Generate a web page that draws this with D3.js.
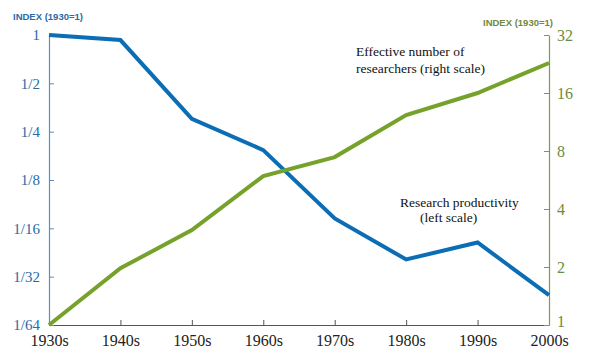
<!DOCTYPE html>
<html lang="en">
<head>
    <meta charset="UTF-8">
    <title>productivity</title>
    <script src="https://cdn.jsdelivr.net/npm/d3@7"></script>
    <style>
        body{ margin:0; background:#fff; }
        svg{ display:block; }
        .serif{ font-family: "Liberation Serif", "DejaVu Serif", "Times New Roman", serif; }
        .sans{ font-family: "Liberation Sans", Arial, sans-serif; }
    </style>
</head>
<body>
</body>
<script type="text/javascript">

    let decades = ["1930s","1940s","1950s","1960s","1970s","1980s","1990s","2000s"];
    let productivity = [1, 0.93, 0.30, 0.192, 0.072, 0.040, 0.051, 0.024];
    let researchers = [1, 1.97, 3.11, 5.93, 7.44, 12.3, 16, 22.9];
    let leftTicks = [1, 1/2, 1/4, 1/8, 1/16, 1/32, 1/64];
    let leftTickLabels = ["1","1/2","1/4","1/8","1/16","1/32","1/64"];
    let rightTicks = [32, 16, 8, 4, 2, 1];

    let width = 594, height = 362;
    let blue = "#0b6db5", green = "#76a22c";

    let svg = d3.select("body")
        .append("svg")
        .attr("width", width)
        .attr("height", height);

    let x = d3.scalePoint()
        .domain(decades)
        .range([49, 549]);

    let yLeft = d3.scaleLog().base(2)
        .domain([1/64, 1])
        .range([325, 35]);

    let yRight = d3.scaleLog().base(2)
        .domain([1, 32])
        .range([325, 35]);

    // bottom axis
    let xAxis = d3.axisBottom(x).tickSizeInner(-5).tickSizeOuter(0).tickPadding(10);
    let xg = svg.append("g").attr("transform", "translate(0,325)").call(xAxis);
    xg.attr("font-family", null).attr("font-size", null);
    xg.select(".domain").attr("stroke", "#555").attr("stroke-width", 1.2);
    xg.selectAll(".tick line").attr("stroke", "#555");
    xg.selectAll(".tick text").attr("class", "serif")
        .style("font-size", "16px").attr("fill", "#222");

    // left axis
    let yAxisL = d3.axisLeft(yLeft)
        .tickValues(leftTicks)
        .tickFormat((d, i) => leftTickLabels[i])
        .tickSizeInner(-5).tickSizeOuter(0).tickPadding(9);
    let lg = svg.append("g").attr("transform", "translate(49,0)").call(yAxisL);
    lg.attr("font-family", null).attr("font-size", null);
    lg.select(".domain").attr("stroke", "#5a8fbd").attr("stroke-width", 1.2);
    lg.selectAll(".tick line").attr("stroke", "#5a8fbd");
    lg.selectAll(".tick text").attr("class", "serif")
        .style("font-size", "15px").attr("fill", "#2a6aa6");

    // right axis
    let yAxisR = d3.axisRight(yRight)
        .tickValues(rightTicks)
        .tickFormat(d3.format("d"))
        .tickSizeInner(-5).tickSizeOuter(0).tickPadding(8);
    let rg = svg.append("g").attr("transform", "translate(549,0)").call(yAxisR);
    rg.attr("font-family", null).attr("font-size", null);
    rg.select(".domain").attr("stroke", "#7e9a45").attr("stroke-width", 1.2);
    rg.selectAll(".tick line").attr("stroke", "#7e9a45");
    rg.selectAll(".tick text").attr("class", "serif")
        .style("font-size", "16px").attr("fill", "#6f8a3c")
        .attr("dy", (d) => d === 1 ? "0.1em" : "0.32em");

    // axis titles
    svg.append("text").attr("class", "sans").attr("x", 13).attr("y", 20)
        .style("font-size", "9.5px").attr("font-weight", "bold")
        .attr("fill", "#2a6aa6").text("INDEX (1930=1)");
    svg.append("text").attr("class", "sans").attr("x", 483).attr("y", 26)
        .style("font-size", "9.5px").attr("font-weight", "bold")
        .attr("fill", "#6f8a3c").text("INDEX (1930=1)");

    // lines
    let lineL = d3.line().x((d, i) => x(decades[i])).y(d => yLeft(d));
    let lineR = d3.line().x((d, i) => x(decades[i])).y(d => yRight(d));

    svg.append("path").datum(productivity)
        .attr("fill", "none").attr("stroke", blue).attr("stroke-width", 4)
        .attr("d", lineL);
    svg.append("path").datum(researchers)
        .attr("fill", "none").attr("stroke", green).attr("stroke-width", 4)
        .attr("d", lineR);

    // annotations
    let notes = [
        { t: "Effective number of", x: 356, y: 56 },
        { t: "researchers (right scale)", x: 356, y: 73 },
        { t: "Research productivity", x: 400, y: 207 },
        { t: "(left scale)", x: 420, y: 222 }
    ];
    svg.selectAll(".note").data(notes).enter().append("text")
        .attr("class", "serif")
        .attr("x", d => d.x).attr("y", d => d.y)
        .style("font-size", "13.5px").attr("fill", "#111")
        .text(d => d.t);

</script>
</html>
